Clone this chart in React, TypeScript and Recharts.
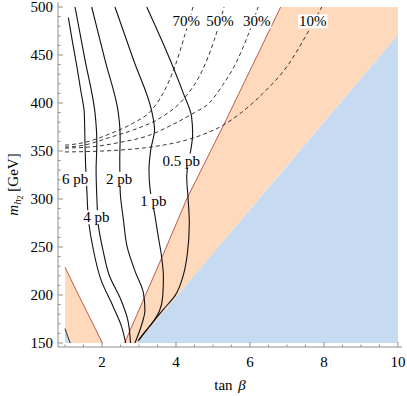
import React from "react";
import { ComposedChart, XAxis, YAxis, Line, Area, Scatter } from "recharts";

// axis ticks (minor every 0.5 / 10 GeV, labelled majors)
const xTicks = [1, 1.5, 2, 2.5, 3, 3.5, 4, 4.5, 5, 5.5, 6, 6.5, 7, 7.5, 8, 8.5, 9, 9.5, 10];
const xLabels = [2, 4, 6, 8, 10];
const yTicks = [
  150, 160, 170, 180, 190, 200, 210, 220, 230, 240, 250, 260, 270, 280, 290, 300, 310, 320,
  330, 340, 350, 360, 370, 380, 390, 400, 410, 420, 430, 440, 450, 460, 470, 480, 490, 500,
];
const yLabels = [150, 200, 250, 300, 350, 400, 450, 500];

// excluded regions: [tan beta, [low, high] in GeV]
const blueBand = [
  { x: 2.95, r: [150, 150] },
  { x: 10, r: [150, 471] },
];
const orangeBand = [
  { x: 2.61, r: [150, 150] },
  { x: 2.95, r: [150, 180] },
  { x: 3.63, r: [181, 240] },
  { x: 4.29, r: [211, 300] },
  { x: 5.3, r: [257, 378] },
  { x: 6.83, r: [327, 500] },
  { x: 10, r: [471, 500] },
];
const leftBand = [
  { x: 1, r: [150, 229] },
  { x: 1.3, r: [150, 205] },
  { x: 1.65, r: [150, 178] },
  { x: 2.01, r: [150, 150] },
];
const cornerBand = [
  { x: 1, r: [150, 165] },
  { x: 1.07, r: [150, 157] },
  { x: 1.14, r: [150, 150] },
];

// region edges
const redEdge = [[2.61, 150], [2.95, 180], [3.63, 240], [4.29, 300], [5.3, 378], [6.83, 500]];
const leftEdge = [[1, 229], [1.3, 205], [1.65, 178], [2.01, 150]];
const cornerEdge = [[1, 165], [1.07, 157], [1.14, 150]];

// cross-section contours (solid)
const pb6 = [[1.09, 489], [1.2, 464], [1.32, 438], [1.43, 412], [1.52, 390], [1.54, 358], [1.56, 332], [1.59, 309], [1.64, 276], [1.75, 250], [1.98, 215], [2.3, 188], [2.52, 168], [2.64, 150]];
const pb4 = [[1.27, 500], [1.54, 445], [1.81, 390], [1.86, 358], [1.84, 330], [1.86, 302], [1.9, 273], [2.03, 246], [2.2, 220], [2.51, 195], [2.69, 175], [2.77, 150]];
const pb2 = [[1.72, 500], [2.08, 445], [2.44, 390], [2.49, 365], [2.48, 340], [2.49, 309], [2.58, 278], [2.68, 250], [2.9, 224], [3.12, 202], [3.16, 184], [3.08, 170], [2.89, 150]];
const pb1 = [[2.35, 500], [2.85, 445], [3.34, 392], [3.42, 372], [3.32, 352], [3.27, 330], [3.3, 310], [3.42, 285], [3.52, 261], [3.61, 240], [3.66, 219], [3.64, 198], [3.55, 183], [3.38, 172], [3.17, 162], [2.97, 152]];
const pb05 = [[3.21, 500], [3.84, 445], [4.2, 410], [4.42, 386], [4.45, 368], [4.4, 351], [4.32, 335], [4.29, 323], [4.33, 299], [4.36, 275], [4.31, 244], [4.2, 221], [3.97, 199], [3.66, 185], [3.3, 168], [3.0, 153]];

// branching-ratio contours (dashed)
const pct70 = [[1.0, 356], [1.54, 359], [2.22, 368], [2.84, 379], [3.3, 391], [3.65, 410], [3.97, 438], [4.24, 471], [4.46, 500]];
const pct50 = [[1.0, 354], [1.5, 356], [2.2, 364], [2.85, 372], [3.6, 385], [4.2, 404], [4.7, 433], [5.03, 465], [5.3, 500]];
const pct30 = [[1.0, 353], [1.76, 354.5], [2.49, 359], [3.25, 366], [3.93, 378], [4.5, 390], [4.9, 400], [5.25, 418], [5.6, 440], [5.95, 471], [6.22, 500]];
const pct10 = [[1.0, 349], [1.49, 349.3], [2.49, 351], [3.39, 354.5], [4.29, 361.5], [4.65, 366], [5.28, 377], [5.8, 391], [6.35, 410], [7.0, 438], [7.6, 476], [7.94, 500]];

const tags = [
  { x: 1.27, y: 321, label: "6 pb" },
  { x: 2.46, y: 321, label: "2 pb" },
  { x: 1.85, y: 281, label: "4 pb" },
  { x: 3.39, y: 298, label: "1 pb" },
  { x: 4.14, y: 340, label: "0.5 pb" },
  { x: 4.28, y: 485, label: "70%" },
  { x: 5.19, y: 485, label: "50%" },
  { x: 6.18, y: 485, label: "30%" },
  { x: 7.7, y: 485, label: "10%" },
];

const SERIF = "Liberation Serif";
const FS = 15;
const FRAME = "#8e8e8e";
const BLUE = "#c6dbf2";
const ORANGE = "#fed9bb";
const RED = "#c05a4c";
const txt = { fontFamily: SERIF, fontSize: FS };

const pts = (arr: number[][]) => arr.map(([x, y]) => ({ x, y }));

const charW: Record<string, number> = { "%": 0.83, ".": 0.25, " ": 0.25 };
const textWidth = (s: string) => [...s].reduce((w, c) => w + (charW[c] ?? 0.5) * FS, 0);

function BottomTick({ x, y, payload }: any) {
  const major = xLabels.includes(payload.value);
  return (
    <g>
      <line x1={x} y1={y} x2={x} y2={y - (major ? 5 : 2.5)} stroke={FRAME} />
      {major && (
        <text x={x} y={y + 20} textAnchor="middle" style={txt} fill="#000">
          {payload.value}
        </text>
      )}
    </g>
  );
}

function TopTick({ x, y, payload }: any) {
  const major = xLabels.includes(payload.value);
  return <line x1={x} y1={y} x2={x} y2={y + (major ? 5 : 2.5)} stroke={FRAME} />;
}

function LeftTick({ x, y, payload }: any) {
  const major = yLabels.includes(payload.value);
  return (
    <g>
      <line x1={x} y1={y} x2={x + (major ? 5 : 2.5)} y2={y} stroke={FRAME} />
      {major && (
        <text x={x - 5} y={y + 5} textAnchor="end" style={txt} fill="#000">
          {payload.value}
        </text>
      )}
    </g>
  );
}

function RightTick({ x, y, payload }: any) {
  const major = yLabels.includes(payload.value);
  return <line x1={x} y1={y} x2={x - (major ? 5 : 2.5)} y2={y} stroke={FRAME} />;
}

function XTitle({ viewBox }: any) {
  const { x, y, width } = viewBox;
  return (
    <text x={x + width / 2} y={y + 43} textAnchor="middle" style={txt} fill="#000">
      tan <tspan fontStyle="italic" dx={2}>β</tspan>
    </text>
  );
}

function YTitle({ viewBox }: any) {
  const cx = viewBox.x + 10;
  const cy = viewBox.y + viewBox.height / 2 + 10;
  return (
    <text transform={`rotate(-90 ${cx} ${cy})`} x={cx} y={cy} textAnchor="middle" style={txt} fill="#000">
      <tspan fontStyle="italic">m</tspan>
      <tspan fontStyle="italic" fontSize={11} dy={3}>h</tspan>
      <tspan fontSize={8} dy={2}>2</tspan>
      <tspan dy={-5}> [GeV]</tspan>
    </text>
  );
}

function Tag({ cx, cy, payload }: any) {
  const w = textWidth(payload.label) + 2;
  return (
    <g>
      <rect x={cx - w / 2} y={cy - 7} width={w} height={14} fill="#fff" />
      <text x={cx} y={cy + 5} textAnchor="middle" style={txt} fill="#000">
        {payload.label}
      </text>
    </g>
  );
}

const solid = [pb6, pb4, pb2, pb1, pb05];
const dashed = [pct70, pct50, pct30, pct10];

export default function App() {
  return (
    <div style={{ position: "absolute", left: 0, top: 0, fontFamily: SERIF }}>
      <ComposedChart width={407} height={396} margin={{ top: 2, right: 5, bottom: 0, left: 8 }}>
        <XAxis
          type="number"
          dataKey="x"
          domain={[0.81, 10.11]}
          allowDataOverflow
          ticks={xTicks}
          interval={0}
          tickSize={0}
          tickMargin={0}
          tickLine={false}
          tick={(p: any) => <BottomTick {...p} />}
          axisLine={{ stroke: FRAME }}
          height={49}
          label={{ content: (p: any) => <XTitle {...p} /> }}
        />
        <XAxis
          xAxisId="top"
          orientation="top"
          type="number"
          dataKey="x"
          domain={[0.81, 10.11]}
          allowDataOverflow
          ticks={xTicks}
          interval={0}
          tickSize={0}
          tickMargin={0}
          tickLine={false}
          tick={(p: any) => <TopTick {...p} />}
          axisLine={{ stroke: FRAME }}
          height={0}
        />
        <YAxis
          type="number"
          dataKey="y"
          domain={[145.8, 505.2]}
          allowDataOverflow
          ticks={yTicks}
          interval={0}
          tickSize={0}
          tickMargin={0}
          tickLine={false}
          tick={(p: any) => <LeftTick {...p} />}
          axisLine={{ stroke: FRAME }}
          width={50}
          label={{ content: (p: any) => <YTitle {...p} /> }}
        />
        <YAxis
          yAxisId="right"
          orientation="right"
          type="number"
          dataKey="y"
          domain={[145.8, 505.2]}
          allowDataOverflow
          ticks={yTicks}
          interval={0}
          tickSize={0}
          tickMargin={0}
          tickLine={false}
          tick={(p: any) => <RightTick {...p} />}
          axisLine={{ stroke: FRAME }}
          width={0}
        />

        <Area data={orangeBand} dataKey="r" type="linear" fill={ORANGE} fillOpacity={1} stroke="none" isAnimationActive={false} />
        <Area data={blueBand} dataKey="r" type="linear" fill={BLUE} fillOpacity={1} stroke="none" isAnimationActive={false} />
        <Area data={leftBand} dataKey="r" type="linear" fill={ORANGE} fillOpacity={1} stroke="none" isAnimationActive={false} />
        <Area data={cornerBand} dataKey="r" type="linear" fill={BLUE} fillOpacity={1} stroke="none" isAnimationActive={false} />

        <Line data={pts(redEdge)} dataKey="y" type="linear" stroke={RED} strokeWidth={1} dot={false} isAnimationActive={false} />
        <Line data={pts(leftEdge)} dataKey="y" type="monotoneX" stroke={RED} strokeWidth={1} dot={false} isAnimationActive={false} />
        <Line data={pts(cornerEdge)} dataKey="y" type="monotoneX" stroke="#222" strokeWidth={1} dot={false} isAnimationActive={false} />
        <Line xAxisId="top" yAxisId="right" data={pts(redEdge)} dataKey="y" stroke="none" dot={false} isAnimationActive={false} />

        {dashed.map((c, i) => (
          <Line key={"d" + i} data={pts(c)} dataKey="y" type="monotoneX" stroke="#222" strokeWidth={0.9} strokeDasharray="4 3" dot={false} isAnimationActive={false} />
        ))}
        {solid.map((c, i) => (
          <Line key={"s" + i} data={pts(c)} dataKey="y" type="monotoneY" stroke="#111" strokeWidth={1.1} dot={false} isAnimationActive={false} />
        ))}

        <Scatter data={tags} dataKey="y" shape={(p: any) => <Tag {...p} />} isAnimationActive={false} />
      </ComposedChart>
    </div>
  );
}
